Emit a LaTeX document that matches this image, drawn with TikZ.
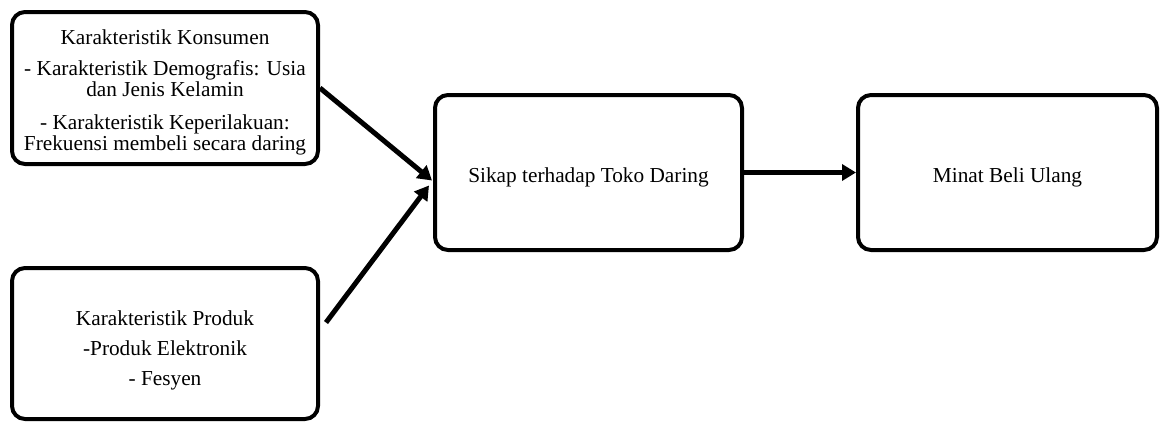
\documentclass[tikz,border=0pt]{standalone}
\usepackage{fontspec}
\setmainfont{Liberation Serif}
\usetikzlibrary{arrows.meta,calc}
\begin{document}
\begin{tikzpicture}[x=1pt,y=-1pt,
  box/.style={draw=black,line width=4pt,rounded corners=13pt,fill=white,
    align=center,inner sep=0pt,font=\fontsize{21.3}{21}\selectfont},
  conn/.style={line width=5pt,-{Triangle[length=14pt,width=16pt]}}]
\useasboundingbox (0,0) rectangle (1160,421);
\node[box,minimum width=306pt,minimum height=152pt] (kons) at (165,88)
  {\rule{0pt}{24pt}Karakteristik Konsumen\\[10pt]- Karakteristik Demografis: Usia\\dan Jenis Kelamin\\[12pt]- Karakteristik Keperilakuan:\\Frekuensi membeli secara daring};
\node[box,minimum width=306pt,minimum height=151pt,font=\fontsize{21.3}{30}\selectfont] (prod) at (165,343.5)
  {\rule{0pt}{29pt}Karakteristik Produk\\-Produk Elektronik\\- Fesyen};
\node[box,minimum width=307pt,minimum height=155pt] (sikap) at (588.5,172.5)
  {\rule{0pt}{25pt}Sikap terhadap Toko Daring};
\node[box,minimum width=299pt,minimum height=155pt] (minat) at (1007.5,172.5)
  {\rule{0pt}{25pt}Minat Beli Ulang};
\draw[conn] (kons.east) -- ($(sikap.west)+(-1,8)$);
\draw[conn] ($(prod.east)+(6,-21)$) -- ($(sikap.west)+(-4,13)$);
\draw[conn] (sikap.east) -- (minat.west);
\end{tikzpicture}
\end{document}
